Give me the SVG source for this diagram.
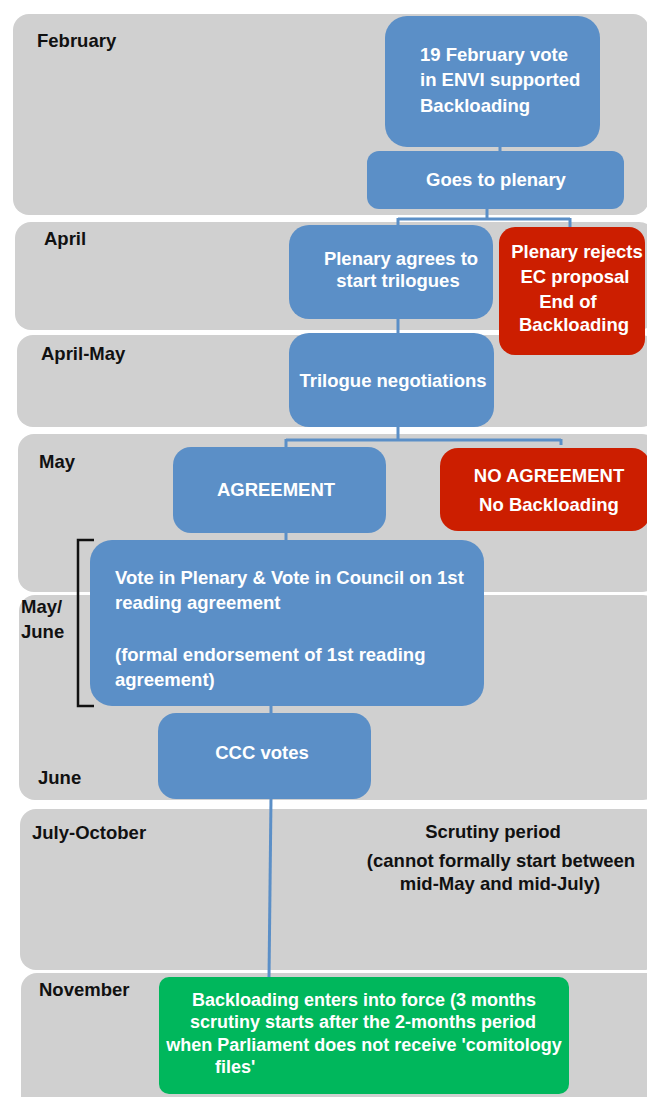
<svg xmlns="http://www.w3.org/2000/svg" width="647" height="1097" viewBox="0 0 647 1097">
  <style>
    .band { fill: #d0d0d0; }
    .blue { fill: #5b8fc7; }
    .red { fill: #cc1e00; }
    .green { fill: #00b75c; }
    text { font-family: "Liberation Sans", Arial, sans-serif; font-weight: bold; font-size: 18.5px; }
    .lbl { fill: #111111; }
    .wt { fill: #ffffff; }
    .mid { text-anchor: middle; }
    .link { fill: none; stroke: #5b8fc7; stroke-width: 3; }
  </style>

  <!-- timeline bands -->
  <g id="bands">
    <rect class="band" x="13" y="14" width="636" height="201" rx="16"/>
    <rect class="band" x="15" y="222" width="640" height="108" rx="16"/>
    <rect class="band" x="17" y="335" width="640" height="92" rx="16"/>
    <rect class="band" x="18" y="434" width="640" height="158" rx="16"/>
    <rect class="band" x="19" y="595" width="640" height="205" rx="16"/>
    <rect class="band" x="20" y="809" width="640" height="161" rx="16"/>
    <rect class="band" x="21" y="973" width="640" height="140" rx="16"/>
  </g>

  <!-- month labels -->
  <g id="labels" class="lbl">
    <text class="lbl" x="37" y="47">February</text>
    <text class="lbl" x="44" y="245">April</text>
    <text class="lbl" x="41" y="360">April-May</text>
    <text class="lbl" x="39" y="468">May</text>
    <text class="lbl" x="21" y="613">May/</text>
    <text class="lbl" x="21" y="638">June</text>
    <text class="lbl" x="38" y="784">June</text>
    <text class="lbl" x="32" y="839">July-October</text>
    <text class="lbl" x="39" y="996">November</text>
  </g>

  <!-- connectors -->
  <g id="connectors">
    <path class="link" d="M500 146 V152"/>
    <path class="link" d="M487 208 V219 M398 219 H570 M398 218 V226 M570 218 V228"/>
    <path class="link" d="M398 318 V334"/>
    <path class="link" d="M398 426 V441 M286 440 H561 M286 439 V448 M561 439 V445"/>
    <path class="link" d="M286 532 V541"/>
    <path class="link" d="M271 705 V714"/>
    <path class="link" d="M271 798 L269 978"/>
  </g>

  <!-- bracket spanning the May/June votes -->
  <g id="bracket">
    <path d="M94 540 H78 V706 H94" fill="none" stroke="#111111" stroke-width="2.5"/>
  </g>

  <g id="envi-vote">
    <rect class="blue" x="385" y="16" width="215" height="131" rx="22"/>
    <text class="wt" x="420" y="61">19 February vote</text>
    <text class="wt" x="420" y="86">in ENVI supported</text>
    <text class="wt" x="420" y="112">Backloading</text>
  </g>

  <g id="goes-to-plenary">
    <rect class="blue" x="367" y="151" width="257" height="58" rx="12"/>
    <text class="wt mid" x="496" y="186">Goes to plenary</text>
  </g>

  <g id="plenary-agrees">
    <rect class="blue" x="289" y="225" width="204" height="94" rx="20"/>
    <text class="wt mid" x="401" y="265">Plenary agrees to</text>
    <text class="wt mid" x="398" y="287">start trilogues</text>
  </g>

  <g id="plenary-rejects">
    <rect class="red" x="499" y="227" width="146" height="128" rx="16"/>
    <text class="wt mid" x="577" y="258">Plenary rejects</text>
    <text class="wt mid" x="575" y="283">EC proposal</text>
    <text class="wt mid" x="568" y="308">End of</text>
    <text class="wt mid" x="574" y="331">Backloading</text>
  </g>

  <g id="trilogue">
    <rect class="blue" x="289" y="333" width="205" height="94" rx="20"/>
    <text class="wt mid" x="393" y="387">Trilogue negotiations</text>
  </g>

  <g id="agreement">
    <rect class="blue" x="173" y="447" width="213" height="86" rx="18"/>
    <text class="wt mid" x="276" y="496">AGREEMENT</text>
  </g>

  <g id="no-agreement">
    <rect class="red" x="440" y="448" width="210" height="83" rx="18"/>
    <text class="wt mid" x="549" y="482">NO AGREEMENT</text>
    <text class="wt mid" x="549" y="511">No Backloading</text>
  </g>

  <g id="plenary-council-vote">
    <rect class="blue" x="90" y="540" width="394" height="166" rx="22"/>
    <text class="wt" x="115" y="584">Vote in Plenary &amp; Vote in Council on 1st</text>
    <text class="wt" x="115" y="609">reading agreement</text>
    <text class="wt" x="115" y="661">(formal endorsement of 1st reading</text>
    <text class="wt" x="115" y="686">agreement)</text>
  </g>

  <g id="ccc-votes">
    <rect class="blue" x="158" y="713" width="213" height="86" rx="18"/>
    <text class="wt mid" x="262" y="759">CCC votes</text>
  </g>

  <g id="scrutiny">
    <text class="lbl mid" x="493" y="838">Scrutiny period</text>
    <text class="lbl mid" x="501" y="867">(cannot formally start between</text>
    <text class="lbl mid" x="500" y="890">mid-May and mid-July)</text>
  </g>

  <g id="entry-into-force">
    <rect class="green" x="159" y="977" width="410" height="117" rx="10"/>
    <text class="wt mid" x="364" y="1006" style="font-size:18px">Backloading enters into force (3 months</text>
    <text class="wt mid" x="363" y="1028" style="font-size:18px">scrutiny starts after the 2-months period</text>
    <text class="wt mid" x="364" y="1051" style="font-size:18px">when Parliament does not receive 'comitology</text>
    <text class="wt" x="215" y="1073" style="font-size:18px">files'</text>
  </g>
</svg>
